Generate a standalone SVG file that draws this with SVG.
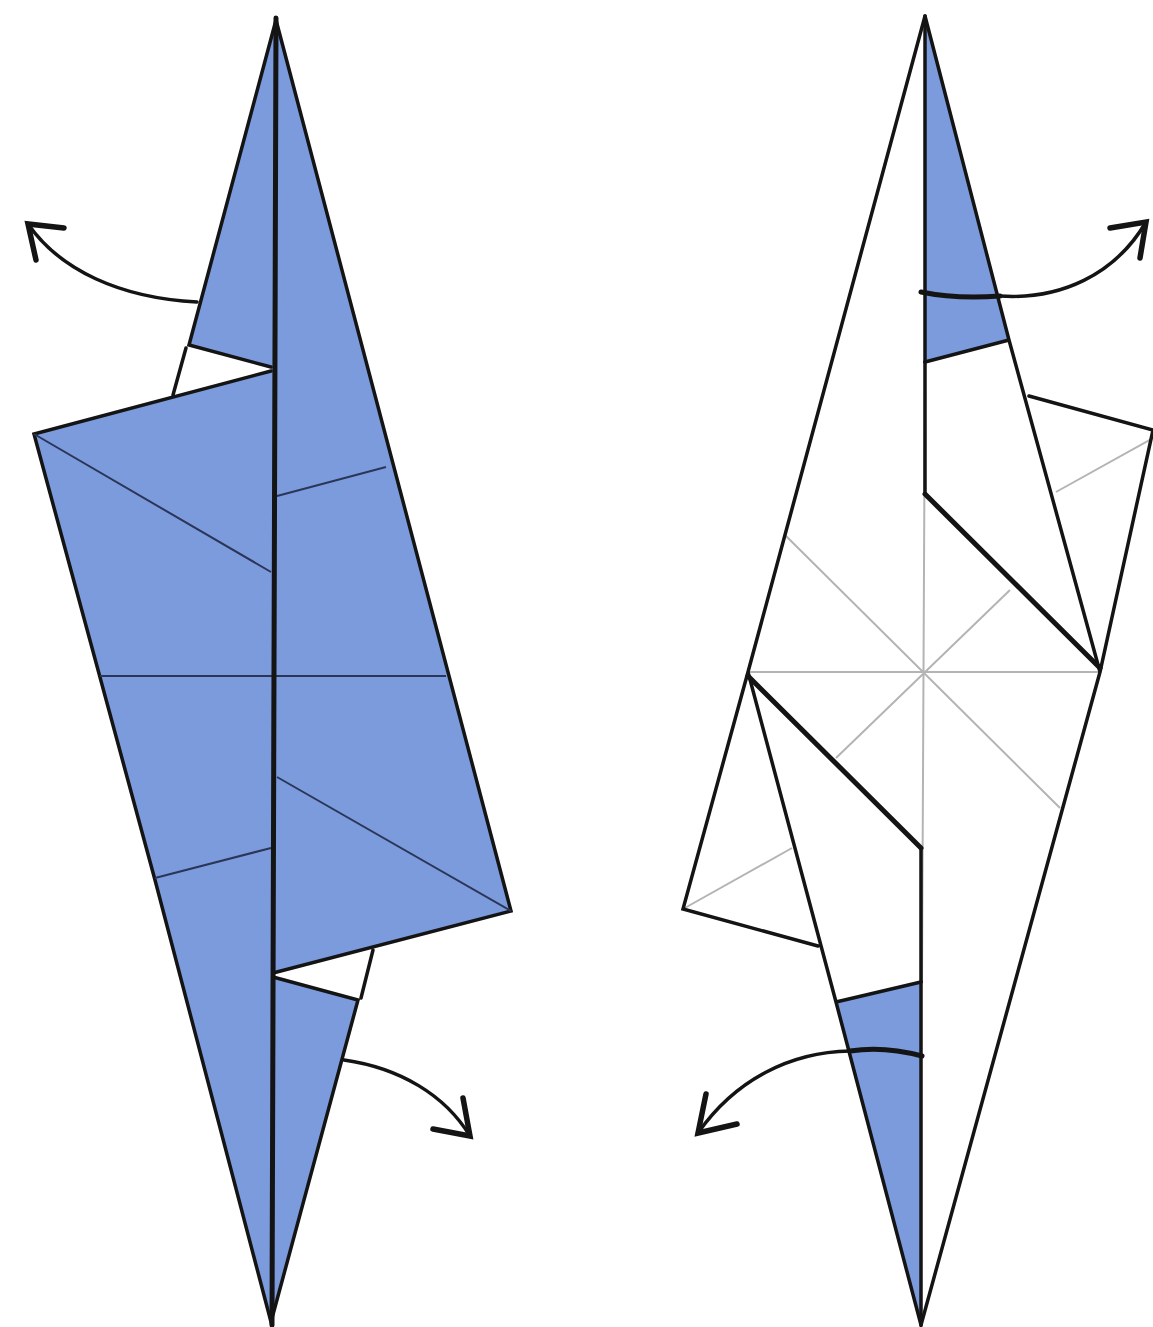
<svg xmlns="http://www.w3.org/2000/svg" width="1153" height="1327" viewBox="0 0 1153 1327">
<style>
.b{fill:#7b9bdc;stroke:none}
.o{fill:none;stroke:#141414;stroke-width:3.5;stroke-linejoin:miter;stroke-linecap:round}
.t{fill:none;stroke:#141414;stroke-width:5;stroke-linecap:round;stroke-linejoin:round}
.m{fill:none;stroke:#2b3558;stroke-width:2}
.g{fill:none;stroke:#b4b4b4;stroke-width:2}
.a{fill:none;stroke:#141414;stroke-width:3.5;stroke-linecap:round}
.h{fill:none;stroke:#141414;stroke-width:5.5;stroke-linecap:round;stroke-linejoin:miter}
</style>
<rect width="1153" height="1327" fill="#fff"/>
<g id="left-figure">
<path class="b" d="M276 20L189 345L271 367L271 371L34 434L155 880L271 1322L358 1000L273 977L273 973L511 911L276 20Z"/>
<path class="o" d="M276 20L189 345L271 367"/>
<path class="o" d="M186 348L173 395"/>
<path class="o" d="M271 371L34 434L155 880L271 1322L358 1000L273 977"/>
<path class="o" d="M273 973L511 911L276 20"/>
<path class="o" d="M373 950L361 998"/>
<path class="m" d="M34 434L271 572M277 496L386 467M100 676L446 676M155 878L271 848M277 777L511 911"/>
<path class="t" d="M276 18L272 1325"/>
</g>
<g id="right-figure">
<path class="b" d="M925 16L1009 340L925 362Z"/>
<path class="b" d="M836 1002L921 982L921 1325Z"/>
<path class="g" d="M786 536L1060 808M1010 590L836 758M925 362L922 982M748 672L1100 672M1056 492L1153 438M683 909L792 848"/>
<path class="o" d="M925 16L748 672L683 909L818 946M748 672L836 1002L921 1325L1100 672L1153 430L1029 396M1100 672L1009 340L925 16M836 1002L921 982M925 362L1009 340"/>
<path class="o" d="M925 16L925 362M921 982L921 1325"/>
<path class="t" d="M925 494L1100 668M748 676L921 848"/>
<path class="o" d="M925 362L925 494M921 848L921 982"/>
</g>
<g id="connectors">
<path class="a" d="M197 302C120 298 60 270 28 224"/>
<path class="h" d="M64 228L28 224L36 260"/>
<path class="a" d="M344 1060C400 1068 445 1095 470 1136"/>
<path class="h" d="M433 1129L470 1136L463 1098"/>
<path class="a" d="M1000 296C1060 300 1115 275 1146 222"/>
<path class="h" d="M1110 228L1146 222L1140 258"/>
<path class="a" d="M850 1051C790 1052 735 1080 698 1133"/>
<path class="h" d="M737 1124L698 1133L706 1094"/>
<path class="t" d="M921 292C950 298 975 298 1000 296"/>
<path class="t" d="M850 1051C875 1047 900 1050 922 1056"/>
</g>
</svg>
